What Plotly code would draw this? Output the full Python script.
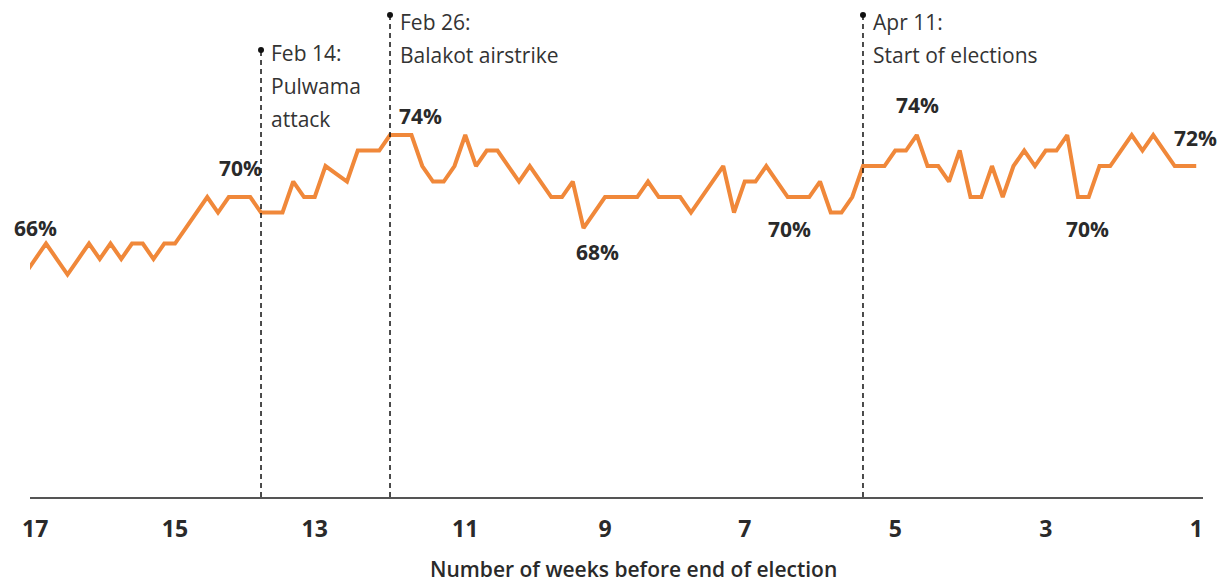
import plotly.graph_objects as go

# Days relative to Feb 26, 2019 (daily series)
days = list(range(-34, 76))
approval = [
    65, 66, 67, 66, 65, 66, 67, 66, 67, 66,
    67, 67, 66, 67, 67, 68, 69, 70, 69, 70,
    70, 70, 69, 69, 69, 71, 70, 70, 72, 71.5,
    71, 73, 73, 73, 74, 74, 74, 72, 71, 71,
    72, 74, 72, 73, 73, 72, 71, 72, 71, 70,
    70, 71, 68, 69, 70, 70, 70, 70, 71, 70,
    70, 70, 69, 70, 71, 72, 69, 71, 71, 72,
    71, 70, 70, 70, 71, 69, 69, 70, 72, 72,
    72, 73, 73, 74, 72, 72, 71, 73, 70, 70,
    72, 70, 72, 73, 72, 73, 73, 74, 70, 70,
    72, 72, 73, 74, 73, 74, 73, 72, 72, 72,
]

week_labels = ["17", "15", "13", "11", "9", "7", "5", "3", "1"]
week_tick_days = [-33, -20, -7, 7, 20, 33, 47, 61, 75]

event_days = [-12, 0, 44]
event_titles = ["Feb 14:", "Feb 26:", "Apr 11:"]
event_lines = [["Pulwama", "attack"], ["Balakot airstrike"], ["Start of elections"]]

pct_texts = ["66%", "70%", "74%", "68%", "70%", "74%", "70%", "72%"]

W, H = 1225, 585
ML, MR, MT, MB = 30, 22, 0, 88
X_RANGE = [-33.49, 75.63]
Y_RANGE = [50.65, 82.71]

PW = W - ML - MR
PH = H - MT - MB


def px_to_paper_y(py):
    return 1 - (py - MT) / PH


def px_to_x(px):
    return X_RANGE[0] + (px - ML) / PW * (X_RANGE[1] - X_RANGE[0])


def px_to_y(py):
    return Y_RANGE[1] - (py - MT) / PH * (Y_RANGE[1] - Y_RANGE[0])


ORANGE = "#F0883A"
TXT = "#2a2a2a"
FONT = "Open Sans"

fig = go.Figure()

fig.add_trace(go.Scatter(
    x=days, y=approval, mode="lines",
    line=dict(color=ORANGE, width=4, shape="linear"),
    hoverinfo="skip", showlegend=False,
))

# Event markers: dashed lines + dots
event_dot_py = [50, 15, 15]
for d, dpy in zip(event_days, event_dot_py):
    fig.add_shape(type="line", x0=d, x1=d, y0=Y_RANGE[0], y1=px_to_y(dpy),
                  xref="x", yref="y", line=dict(color="#111", width=1.5, dash="5px,4px"))
fig.add_trace(go.Scatter(
    x=event_days, y=[px_to_y(p) for p in event_dot_py], mode="markers",
    marker=dict(color="#111", size=6), hoverinfo="skip", showlegend=False,
    cliponaxis=False,
))

# Event texts
title_py = [53, 22, 22]
for d, t, lines, tpy in zip(event_days, event_titles, event_lines, title_py):
    rows = [t] + lines
    for i, r in enumerate(rows):
        fig.add_annotation(
            x=d, y=px_to_paper_y(tpy + i * 33), xref="x", yref="paper",
            text=r, showarrow=False, xanchor="left", yanchor="middle",
            xshift=8, font=dict(family=FONT, size=21, color="#333"),
        )

# Percentage labels (positions in pixels of the reference)
pct_pos = [(35, 228), (240, 168), (420, 116), (597, 252),
           (789, 229), (917, 105), (1087, 229), (1195, 138)]
for txt, (px, py) in zip(pct_texts, pct_pos):
    fig.add_annotation(
        x=px_to_x(px), y=px_to_y(py), xref="x", yref="y", text="<b>" + txt + "</b>",
        showarrow=False, xanchor="center", yanchor="middle",
        font=dict(family=FONT, size=21, color=TXT),
    )

# X axis title
fig.add_annotation(
    x=(633 - ML) / PW, y=px_to_paper_y(569), xref="paper", yref="paper",
    text="Number of weeks before end of election", showarrow=False,
    xanchor="center", yanchor="middle",
    font=dict(family=FONT, size=21, color=TXT, weight=600),
)

fig.update_layout(
    width=W, height=H,
    margin=dict(l=ML, r=MR, t=MT, b=MB, pad=0),
    plot_bgcolor="white", paper_bgcolor="white",
    showlegend=False,
    xaxis=dict(
        range=X_RANGE, showgrid=False, zeroline=False,
        showline=True, linecolor="#555", linewidth=2,
        tickmode="array", tickvals=week_tick_days, ticktext=week_labels,
        ticks="", tickfont=dict(family=FONT, size=23, color=TXT, weight="bold"),
        ticklabelstandoff=10,
    ),
    yaxis=dict(range=Y_RANGE, visible=False, showgrid=False, zeroline=False),
)

fig.write_html("out.html")
